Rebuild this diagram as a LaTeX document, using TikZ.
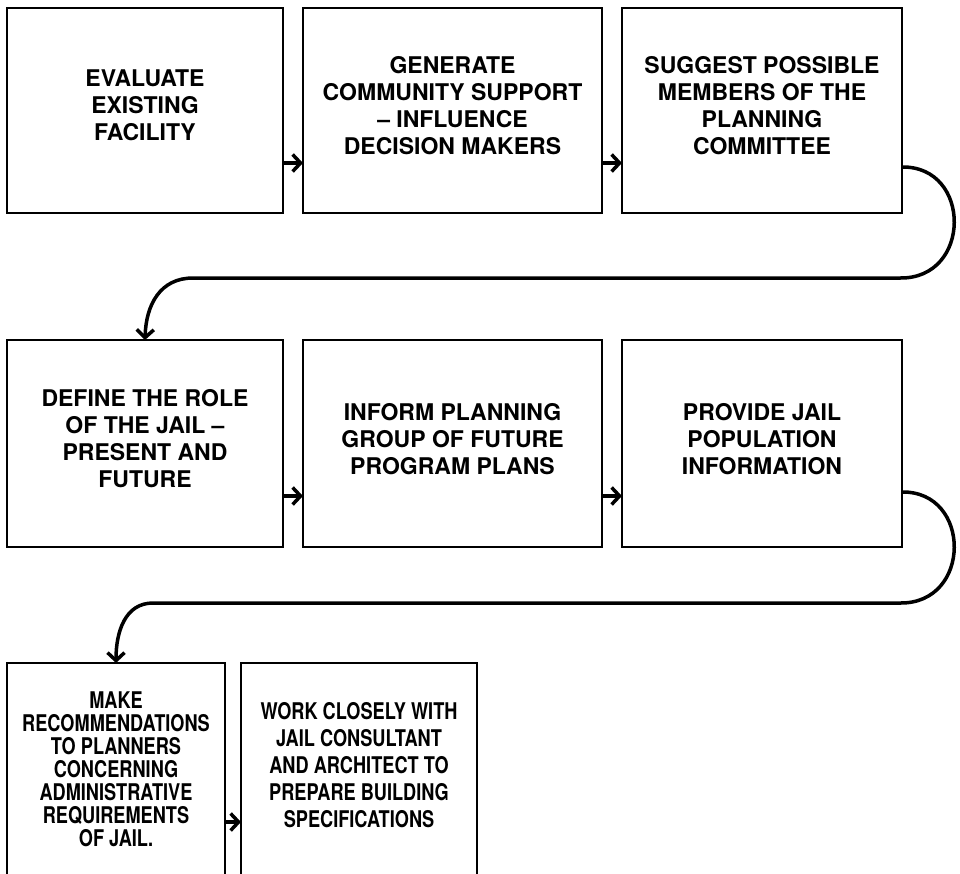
\documentclass[tikz,border=0pt]{standalone}
\usepackage{fontspec}
\setmainfont{TeX Gyre Heros}
\newfontfamily\narrowfont[FakeStretch=0.79]{TeX Gyre Heros}
\usetikzlibrary{arrows.meta, positioning}

\begin{document}
\begin{tikzpicture}[->, >={Straight Barb[length=8pt,width=17pt]}, x=1pt, y=-1pt, node distance=127pt and 20pt, line width=3.5pt]
      \tikzstyle{stage}=[draw=black, line width=2.5pt, inner sep=0pt, outer sep=0pt, align=center, text depth=10pt, font=\fontsize{23}{27}\selectfont\bfseries]
      \useasboundingbox (0,0) rectangle (960,873);
      \clip (0,0) rectangle (960,873);
      % first row
      \node[stage, minimum width=276pt, minimum height=205pt] (b1) at (145,110.5) {EVALUATE\\EXISTING\\FACILITY};
      \node[stage, minimum width=299pt, minimum height=205pt] (b2) [right = of b1] {GENERATE\\COMMUNITY SUPPORT\\– INFLUENCE\\DECISION MAKERS};
      \node[stage, minimum width=280pt, minimum height=205pt] (b3) [right = of b2] {SUGGEST POSSIBLE\\MEMBERS OF THE\\PLANNING\\COMMITTEE};
      % second row
      \node[stage, minimum width=276pt, minimum height=207pt] (b4) [below = of b1] {DEFINE THE ROLE\\OF THE JAIL –\\PRESENT AND\\FUTURE};
      \node[stage, minimum width=299pt, minimum height=207pt] (b5) [right = of b4] {INFORM PLANNING\\GROUP OF FUTURE\\PROGRAM PLANS};
      \node[stage, minimum width=280pt, minimum height=207pt] (b6) [right = of b5] {PROVIDE JAIL\\POPULATION\\INFORMATION};
      % third row
      \node[stage, minimum width=218pt, minimum height=213pt, anchor=north west, text depth=0pt, font=\narrowfont\fontsize{23}{23}\selectfont\bfseries] (b7) [below right = 116pt and 0pt of b4.south west] {MAKE\\RECOMMENDATIONS\\TO PLANNERS\\CONCERNING\\ADMINISTRATIVE\\REQUIREMENTS\\OF JAIL.};
      \node[stage, minimum width=236pt, minimum height=213pt, font=\narrowfont\fontsize{23}{27}\selectfont\bfseries] (b8) [right = 16pt of b7] {WORK CLOSELY WITH\\JAIL CONSULTANT\\AND ARCHITECT TO\\PREPARE BUILDING\\SPECIFICATIONS};
      \coordinate (turn1) at (900,278);
      \coordinate (bend1) at (193,278);
      \coordinate (turn2) at (900,603);
      \coordinate (bend2) at (153,603);
      \draw ([yshift=-52.5pt]b1.east) -- ([yshift=-52.5pt]b2.west);
      \draw ([yshift=-52.5pt]b2.east) -- ([yshift=-52.5pt]b3.west);
      \draw ([yshift=-56.5pt]b3.east) .. controls (972,166) and (972,279) .. (turn1) -- (bend1) .. controls (160,278) and (146,305) .. (b4.north);
      \draw ([yshift=-52.5pt]b4.east) -- ([yshift=-52.5pt]b5.west);
      \draw ([yshift=-52.5pt]b5.east) -- ([yshift=-52.5pt]b6.west);
      \draw ([yshift=-48.5pt]b6.east) .. controls (972,491) and (972,604) .. (turn2) -- (bend2) .. controls (125,603) and (116,632) .. (b7.north);
      \draw ([yshift=-52.5pt]b7.east) -- ([yshift=-52.5pt]b8.west);
    \end{tikzpicture}
\end{document}
